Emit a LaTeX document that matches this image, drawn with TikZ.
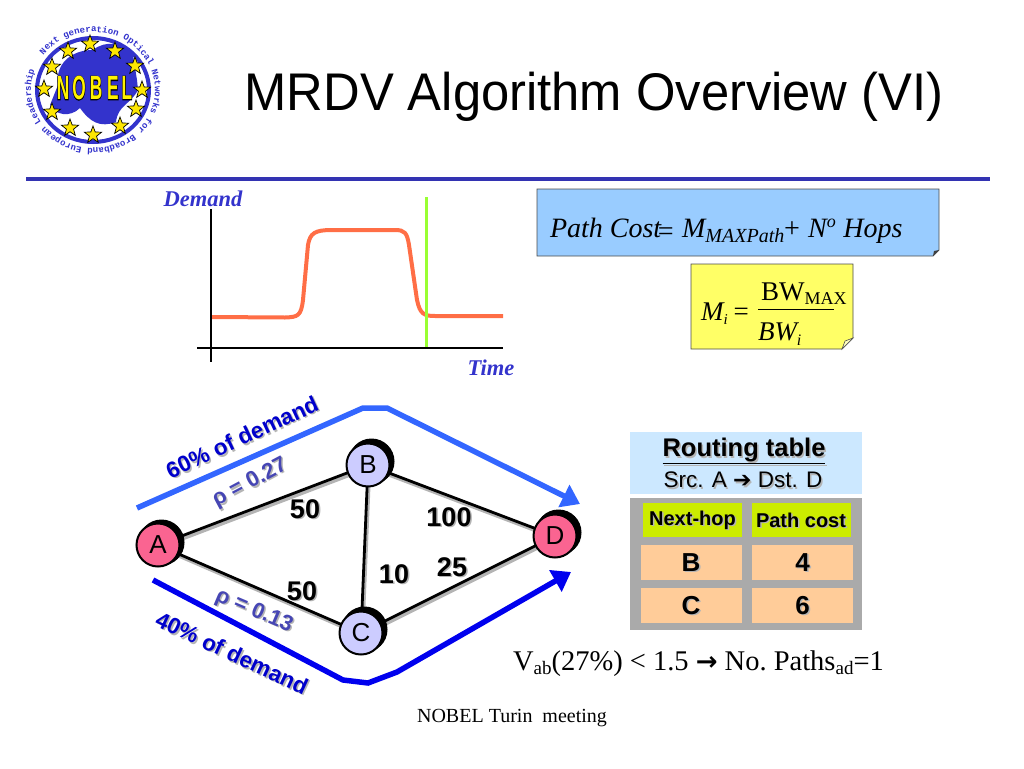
\documentclass[tikz,border=0pt]{standalone}
\usepackage{fontspec}
\setmainfont{Liberation Serif}
\setsansfont{Liberation Sans}
\setmonofont{Liberation Mono}
\newfontfamily\symfont{DejaVu Sans}
\newfontfamily\logofat[FakeBold=5]{Liberation Sans Bold}
\usetikzlibrary{arrows.meta,positioning,shapes.geometric,backgrounds,decorations.text}
\definecolor{rule}{RGB}{51,51,178}
\definecolor{titleblue}{RGB}{51,51,204}
\definecolor{demand60}{RGB}{51,102,255}
\definecolor{demand40}{RGB}{0,0,238}
\definecolor{labelblue}{RGB}{0,0,204}
\definecolor{rhoblue}{RGB}{70,70,180}
\definecolor{curve}{RGB}{255,110,70}
\definecolor{marker}{RGB}{153,255,51}
\definecolor{notecyan}{RGB}{153,204,255}
\definecolor{noteyellow}{RGB}{255,255,102}
\definecolor{foldyellow}{RGB}{255,255,190}
\definecolor{pinknode}{RGB}{250,100,145}
\definecolor{lavnode}{RGB}{204,204,255}
\definecolor{tablehead}{RGB}{204,232,255}
\definecolor{tablegrey}{RGB}{170,170,170}
\definecolor{limecell}{RGB}{204,236,0}
\definecolor{peachcell}{RGB}{255,204,153}
\definecolor{shade}{RGB}{180,180,180}
\newcommand{\fs}[1]{\fontsize{#1}{#1}\selectfont}
\newcommand{\shlabel}[6][0]{%
  \node[plain,shadow,rotate=#1,font=#5] (#2s) at ([shift={(1.5,1.5)}]#3) {#6};
  \node[plain,text=#4,rotate=#1,font=#5] (#2) at (#3) {#6};}
\tikzset{
  x=1pt,y=-1pt,
  plain/.style={inner sep=0pt,outer sep=0pt,align=center},
  shadow/.style={text=shade},
  nodeback/.style={circle,fill=black,inner sep=0pt,minimum size=46pt},
  pinkstation/.style={circle,draw=black,line width=2pt,fill=pinknode,inner sep=0pt,minimum size=43pt,font=\sffamily\fs{26}},
  lavstation/.style={pinkstation,fill=lavnode},
  linkshade/.style={draw=shade,line width=3.5pt},
  link/.style={draw=black,line width=2.8pt},
  flow60/.style={-{Triangle[length=18pt,width=24pt]},line width=5.5pt,draw=demand60},
  flow40/.style={-{Triangle[length=18pt,width=24pt]},line width=5.5pt,draw=demand40},
  cell/.style={plain,minimum height=35pt},
  limebox/.style={cell,fill=limecell,minimum width=99pt,minimum height=34pt},
  peachbox/.style={cell,fill=peachcell,minimum width=101pt},
  euro/.style={star,star points=5,star point ratio=2.4,draw=black,fill=yellow!90!orange,line width=.7pt,inner sep=0pt,minimum size=18pt},
  letterback/.style={plain,text=black,font=\logofat\fs{24},xscale=.72,yscale=1.4,transform shape},
  letter/.style={plain,text=yellow,font=\sffamily\bfseries\fs{24},xscale=.72,yscale=1.4,transform shape}
}
\begin{document}
\begin{tikzpicture}
\useasboundingbox (0,0) rectangle (1024,768);
% logo
\fill[titleblue] (93,50) .. controls (105,40) and (125,42) .. (133,55) -- (137,80) -- (138,90) .. controls (130,105) and (118,105) .. (116,122) .. controls (100,128) and (90,122) .. (80,108) .. controls (70,118) and (55,115) .. (50,105) -- (58,85) .. controls (55,65) and (70,50) .. (93,50) -- cycle;
\draw[titleblue,line width=4pt] (93,90) ellipse[x radius=56,y radius=52];
\path[decorate,decoration={text along path,text align={fit to path},text={|\ttfamily\bfseries\fs{9}\color{titleblue}|Next generation Optical Networks for Broadband European Leadership}}]
  (93,90) ++(217:62 and 58) arc[start angle=217,delta angle=343,x radius=62,y radius=58];
\foreach \n/\sx/\sy in {a/90/44,b/115/51,c/135/66,d/142/90,e/136/109,f/120/126,g/93/135,h/70/128,i/52/112,j/44/89,k/52/67,l/68/51}
  \node[euro] (star\n) at (\sx,\sy) {};
\foreach \n/\sx in {N/63,O/79,B/96,E/113,L/127}{
  \node[letterback] (back\n) at (\sx,88) {\n};
  \node[letter] (let\n) at (\sx,88) {\n};
}
% title
\node[plain,font=\sffamily\fs{53},xscale=.957,transform shape] (title) at (594,97) {MRDV Algorithm Overview (VI)};
\draw[rule,line width=4pt] (26,179) -- (990,179);
% demand plot
\coordinate (ytop) at (211,209);
\coordinate (ybot) at (211,362);
\coordinate (xleft) at (197,348);
\coordinate (xright) at (503,348);
\coordinate (marktop) at (426,197);
\coordinate (markbot) at (426,349);
\draw[line width=4pt,curve] (212,317) -- (285,317.5) .. controls (298,317) and (301,316) .. (303,300) -- (308,245) .. controls (310,233) and (315,230) .. (332,230) -- (395,230) .. controls (405,230) and (407,233) .. (409,245) -- (417,300) .. controls (420,314) and (424,316) .. (435,316) -- (503,316);
\draw[marker,line width=3pt] (marktop) -- (markbot);
\draw[black,line width=2pt] (ytop) -- (ybot);
\draw[black,line width=2pt] (xleft) -- (xright);
\node[plain,text=titleblue,font=\bfseries\itshape\fs{22.5}] (ylab) at (203,199) {Demand};
\node[plain,text=titleblue,font=\bfseries\itshape\fs{22.5}] (xlab) at (491,368) {Time};
% notes
\filldraw[fill=notecyan,draw=black!70,line width=.8pt] (537,189) -- (939,189) -- (939,250) -- (933,256) -- (537,256) -- cycle;
\fill[black!75] (939,250) -- (933,256) -- (934,251) -- cycle;
\node[plain,anchor=base west,font=\itshape\fs{28}] (cost) at (550,237) {Path Cost\kern-5pt\raisebox{-3pt}{=} M\raisebox{-5pt}{\fs{20}MAXPath}\kern-2pt{+} N\textsuperscript{\fs{18}o} Hops};
\filldraw[fill=noteyellow,draw=black!70,line width=.8pt] (691,264) -- (853,264) -- (853,338) -- (842,349) -- (691,349) -- cycle;
\filldraw[fill=foldyellow,draw=black!70,line width=.6pt] (853,338) -- (842,349) -- (845,341) -- cycle;
\node[plain,anchor=base west,font=\itshape\fs{27}] (mi) at (701,320) {M\raisebox{-4pt}{\fs{15}i}\kern6pt{\upshape=}};
\node[plain,anchor=base west,font=\fs{27}] (bwmax) at (761,300) {BW\raisebox{-4pt}{\fs{18}MAX}};
\node[plain,anchor=base west,font=\itshape\fs{27}] (bwi) at (758,340) {BW\raisebox{-5pt}{\fs{16}i}};
\draw[black,line width=.8pt] (758,309) -- (834,309);
% network
\node[nodeback] (Ab) at (161.5,542.5) {};
\node[pinkstation] (A) at (158,545) {A};
\node[nodeback] (Bb) at (371.5,461.5) {};
\node[lavstation] (B) at (368,465) {B};
\node[nodeback] (Cb) at (364.5,629.5) {};
\node[lavstation] (C) at (361,633) {C};
\node[nodeback] (Db) at (558.5,532.5) {};
\node[pinkstation] (D) at (555,536) {D};
\begin{scope}[on background layer]
\foreach \p/\q in {A/B,A/C,B/C,B/D,C/D}{
  \draw[linkshade] ([shift={(1.5,2.5)}]\p.center) -- ([shift={(1.5,2.5)}]\q.center);
  \draw[link] (\p.center) -- (\q.center);
}
\end{scope}
\coordinate (s60) at (137,508);
\coordinate (k60a) at (363,408);
\coordinate (k60b) at (387,408);
\coordinate (t60) at (580,504);
\draw[flow60] (s60) -- (k60a) -- (k60b) -- (t60);
\coordinate (s40) at (153,580);
\coordinate (k40a) at (343,680);
\coordinate (k40b) at (368,683);
\coordinate (k40c) at (397,672);
\coordinate (t40) at (571,572);
\draw[flow40] (s40) -- (k40a) -- (k40b) -- (k40c) -- (t40);
\shlabel[25]{lab60}{242,437}{labelblue}{\sffamily\bfseries\fs{22.5}}{60\% of demand}
\shlabel[-25]{lab40}{232,653}{labelblue}{\sffamily\bfseries\fs{22.5}}{40\% of demand}
\shlabel[28]{rho27}{250,483}{rhoblue}{\sffamily\bfseries\fs{22}}{ρ = 0.27}
\shlabel[-23]{rho13}{254,611}{rhoblue}{\sffamily\bfseries\fs{22}}{ρ = 0.13}
\shlabel{w1}{305,509}{black}{\sffamily\bfseries\fs{27}}{50}
\shlabel{w2}{302,591}{black}{\sffamily\bfseries\fs{27}}{50}
\shlabel{w3}{394,574}{black}{\sffamily\bfseries\fs{27}}{10}
\shlabel{w4}{449,517}{black}{\sffamily\bfseries\fs{27}}{100}
\shlabel{w5}{452,567}{black}{\sffamily\bfseries\fs{27}}{25}
% routing table
\fill[tablehead] (630,432) rectangle (862,494);
\fill[tablegrey] (630,498) rectangle (862,630);
\shlabel{rt}{744,451}{black}{\sffamily\bfseries\fs{25.5}}{\underline{Routing table}}
\shlabel{rtsub}{743,480}{black}{\sffamily\fs{22.5}}{Src. A {\symfont\fs{22}➔} Dst. D}
\node[limebox] (hophead) at (692.5,520) {};
\node[limebox] (costhead) at (801,520) {};
\node[peachbox] (cellB) at (691,562.5) {};
\node[peachbox] (cell4) at (802.5,562.5) {};
\node[peachbox] (cellC) at (691,605.5) {};
\node[peachbox] (cell6) at (802.5,605.5) {};
\shlabel{hoptxt}{hophead.center}{black}{\sffamily\bfseries\fs{20}}{Next-hop}
\shlabel{costtxt}{costhead.center}{black}{\sffamily\bfseries\fs{20}}{Path cost}
\shlabel{btxt}{cellB.center}{black}{\sffamily\bfseries\fs{26}}{B}
\shlabel{ftxt}{cell4.center}{black}{\sffamily\bfseries\fs{26}}{4}
\shlabel{ctxt}{cellC.center}{black}{\sffamily\bfseries\fs{26}}{C}
\shlabel{stxt}{cell6.center}{black}{\sffamily\bfseries\fs{26}}{6}
% condition and footer
\node[plain,anchor=base west,font=\fs{28.5}] (vab) at (513,670) {V\raisebox{-4pt}{\fs{19}ab}(27\%) < 1.5 {\symfont\bfseries\fs{26}→} No.\ Paths\raisebox{-4pt}{\fs{19}ad}=1};
\node[plain,font=\fs{20}] (foot) at (512,718) {NOBEL Turin\ \ meeting};
\end{tikzpicture}
\end{document}
